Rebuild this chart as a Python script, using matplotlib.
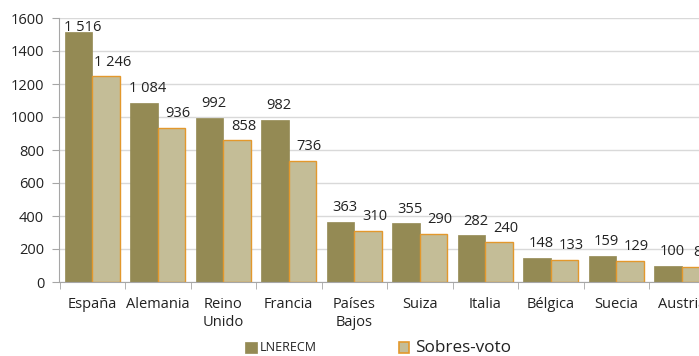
import matplotlib.pyplot as plt
from matplotlib.patches import Rectangle
import numpy as np

paises      =   ["España", "Alemania", "Reino\nUnido", "Francia", "Países\nBajos",
                 "Suiza", "Italia", "Bélgica", "Suecia", "Austria"]
lnerecm     =   [1516, 1084, 992, 982, 363, 355, 282, 148, 159, 100]
sobresvoto  =   [1246, 936, 858, 736, 310, 290, 240, 133, 129, 89]

c_dark      =   "#948a54"
c_light     =   "#c4bd97"
c_edge      =   "#e3982c"
c_text      =   "#222222"

plt.rcParams.update({"font.family": ["Open Sans", "DejaVu Sans"], "font.size": 10.5})

fig     =   plt.figure(figsize = (6.99, 3.56), dpi = 100)
ax      =   fig.add_axes([59.5/699, 74/356, 655/699, 264/356])

x       =   np.arange(len(paises))
w       =   0.42
ax.bar(x - w/2, lnerecm, w, color = c_dark, edgecolor = c_dark, linewidth = 0.5, zorder = 2)
ax.bar(x + w/2, sobresvoto, w, color = c_light, edgecolor = c_edge, linewidth = 1.0, zorder = 2)

def fmt(v):
    return f"{v:,}".replace(",", " ")

# etiquetas por encima de cada barra, sin salirse del area del grafico
def etiqueta(xpos, v):
    ax.text(xpos, min(v + 66, 1524), fmt(v), ha = "center", va = "baseline", color = c_text)

for xi, a, b in zip(x, lnerecm, sobresvoto):
    etiqueta(xi - w/2 + 0.06, a)
    etiqueta(xi + w/2 + 0.10, b)

ax.set_xlim(-0.5, len(paises) - 0.5)
ax.set_ylim(0, 1600)
ax.set_yticks(range(0, 1601, 200))
ax.set_xticks(x)
ax.set_xticklabels(paises, color = c_text, linespacing = 1.25)
ax.set_xticks(np.arange(-0.5, len(paises), 1), minor = True)
ax.tick_params(axis = "x", which = "major", length = 0, pad = 11)
ax.tick_params(axis = "x", which = "minor", length = 5, color = "#a6a6a6")
ax.tick_params(axis = "y", length = 5, color = "#a6a6a6", labelcolor = c_text, pad = 6)

ax.grid(axis = "y", color = "#d9d9d9", linewidth = 1, zorder = 0)
ax.set_axisbelow(True)
for s in ["top", "right"]:
    ax.spines[s].set_visible(False)
for s in ["left", "bottom"]:
    ax.spines[s].set_color("#a6a6a6")

# leyenda
fig.add_artist(Rectangle((245/699, (356-353)/356), 12/699, 11/356, transform = fig.transFigure,
                         facecolor = c_dark, edgecolor = c_dark, linewidth = 0.5))
fig.text(260/699, (356-347.5)/356, "LNERECM", fontsize = 9, va = "center", color = c_text)
fig.add_artist(Rectangle((398.5/699, (356-353)/356), 11/699, 11/356, transform = fig.transFigure,
                         facecolor = c_light, edgecolor = c_edge, linewidth = 1.2))
fig.text(415/699, (356-348)/356, "Sobres-voto", fontsize = 12.3, va = "center", color = c_text)

fig.savefig("out.png", dpi = 100)
